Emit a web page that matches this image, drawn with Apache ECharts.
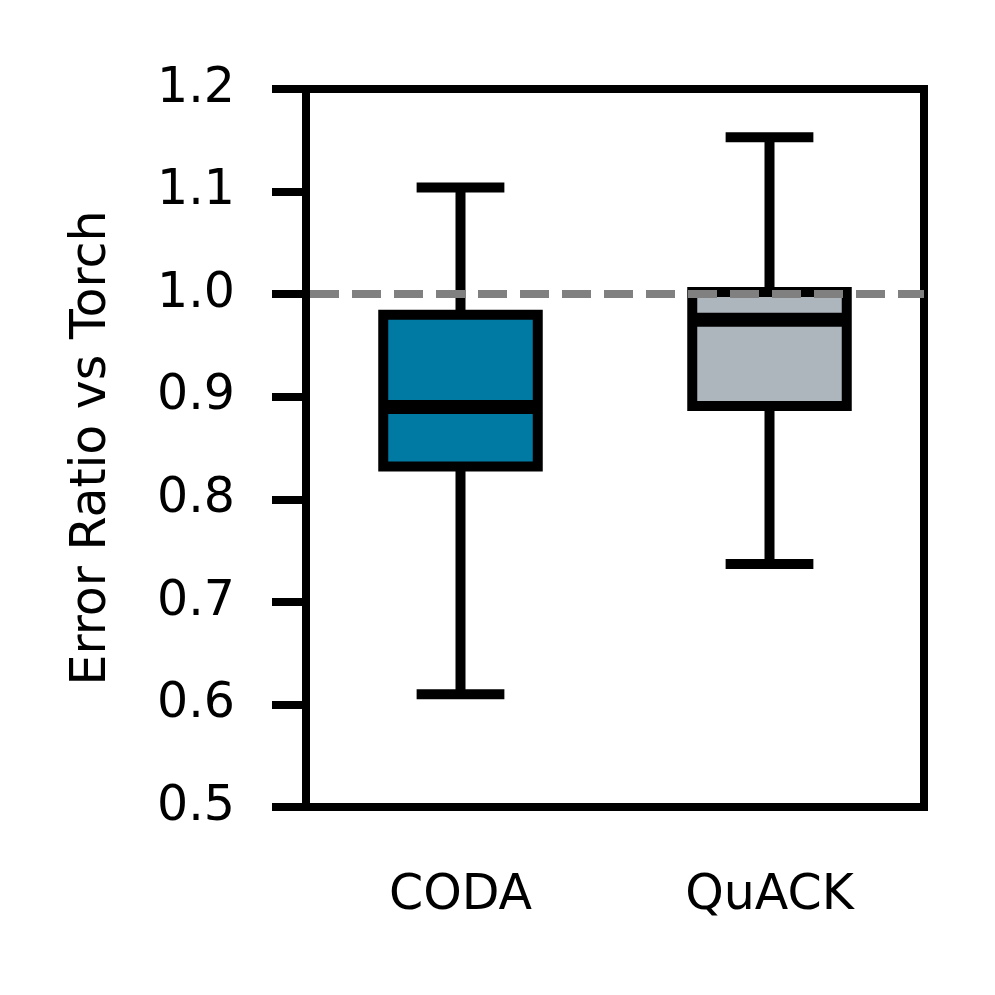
<!DOCTYPE html>
<html>
<head>
<meta charset="utf-8">
<script src="https://cdn.jsdelivr.net/npm/echarts@6/dist/echarts.min.js"></script>
<style>
    html, body { margin: 0; padding: 0; background: #fff; }
    #chart { width: 995px; height: 995px; }
</style>
</head>
<body>
<div id="chart"></div>
<script>
// ---- data ----
const categories = ['CODA', 'QuACK'];
const whiskerLow = [0.610, 0.737];
const q1 = [0.832, 0.891];
const median = [0.890, 0.975];
const q3 = [0.980, 1.002];
const whiskerHigh = [1.104, 1.153];
const boxColors = ['#007aa3', '#adb5bd'];
const refLine = 1.0;
const yTicks = { min: 0.5, max: 1.2, step: 0.1 };

const FONT = 'DejaVu Sans';
const FONT_SIZE = 49;

const chart = echarts.init(document.getElementById('chart'));

// one box per category: [x, low, q1, median, q3, high]
const boxData = categories.map((c, i) => [i, whiskerLow[i], q1[i], median[i], q3[i], whiskerHigh[i]]);

function renderBox(params, api) {
    const i = api.value(0);
    const lo = api.coord([i, api.value(1)]);
    const b = api.coord([i, api.value(2)]);
    const m = api.coord([i, api.value(3)]);
    const t = api.coord([i, api.value(4)]);
    const hi = api.coord([i, api.value(5)]);
    const band = api.size([1, 0])[0];
    const half = band * 0.25;
    const cap = band * 0.142;
    const cx = lo[0];
    const line = { stroke: '#000', lineWidth: 10, lineCap: 'butt' };
    return {
        type: 'group',
        children: [
            { type: 'line', shape: { x1: cx, y1: t[1], x2: cx, y2: hi[1] }, style: line },
            { type: 'line', shape: { x1: cx, y1: b[1], x2: cx, y2: lo[1] }, style: line },
            { type: 'line', shape: { x1: cx - cap, y1: hi[1], x2: cx + cap, y2: hi[1] }, style: line },
            { type: 'line', shape: { x1: cx - cap, y1: lo[1], x2: cx + cap, y2: lo[1] }, style: line },
            {
                type: 'rect',
                shape: { x: cx - half, y: t[1], width: half * 2, height: b[1] - t[1] },
                style: { fill: boxColors[params.dataIndex], stroke: '#000', lineWidth: 10, lineJoin: 'miter' }
            },
            { type: 'line', shape: { x1: cx - half, y1: m[1], x2: cx + half, y2: m[1] }, style: Object.assign({}, line, { lineWidth: 14 }) }
        ]
    };
}

chart.setOption({
    backgroundColor: '#fff',
    animation: false,
    grid: {
        left: 306, right: 71, top: 89, bottom: 188,
        show: true, borderColor: '#000', borderWidth: 8, backgroundColor: 'transparent'
    },
    xAxis: {
        type: 'category',
        data: categories,
        boundaryGap: true,
        axisLine: { lineStyle: { color: '#000', width: 8 } },
        axisTick: { alignWithLabel: true, length: 35, lineStyle: { color: '#000', width: 8 } },
        axisLabel: { color: '#000', fontSize: FONT_SIZE, fontFamily: FONT, margin: 65 },
        splitLine: { show: false }
    },
    yAxis: {
        type: 'value',
        min: yTicks.min, max: yTicks.max, interval: yTicks.step,
        name: 'Error Ratio vs Torch',
        nameLocation: 'middle',
        nameGap: 189,
        nameTextStyle: { color: '#000', fontSize: FONT_SIZE, fontFamily: FONT },
        axisLine: { show: true, lineStyle: { color: '#000', width: 8 } },
        axisTick: { show: true, length: 34, lineStyle: { color: '#000', width: 8 } },
        axisLabel: {
            color: '#000', fontSize: FONT_SIZE, fontFamily: FONT, margin: 71,
            padding: [6, 0, 0, 0],
            formatter: v => v.toFixed(1)
        },
        splitLine: { show: false }
    },
    series: [
        {
            type: 'custom',
            renderItem: renderBox,
            data: boxData,
            encode: { x: 0, y: [1, 2, 3, 4, 5] },
            z: 2
        },
        {
            type: 'line',
            data: [],
            z: 5,
            markLine: {
                silent: true,
                symbol: 'none',
                label: { show: false },
                lineStyle: { color: '#808080', width: 8, type: [29, 13], dashOffset: -4 },
                data: [{ yAxis: refLine }]
            }
        }
    ]
});
</script>
</body>
</html>
